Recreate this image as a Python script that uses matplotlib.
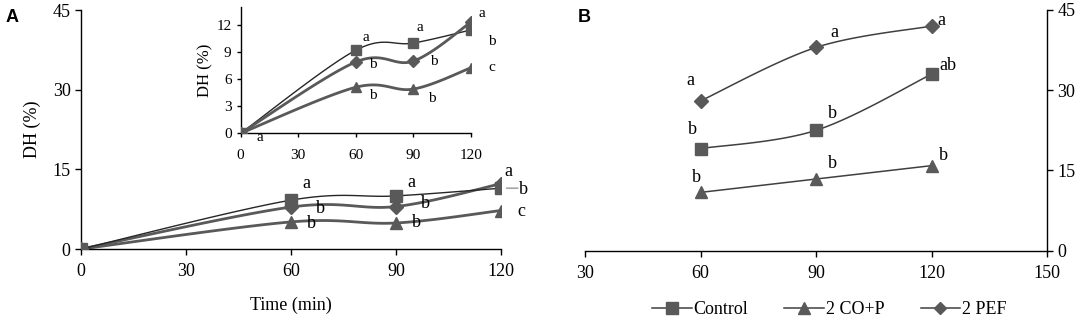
import numpy as np
import matplotlib
matplotlib.use("Agg")
import matplotlib.pyplot as plt
from matplotlib.lines import Line2D

# Panel A: DH (%) over hydrolysis time
time_a = [0, 60, 90, 120]
control_a = [0, 9.2, 10.0, 11.45]
cop_a = [0, 5.1, 4.9, 7.25]
pef_a = [0, 7.9, 8.0, 12.3]

letters_control_a = ["", "a", "a", "b"]
letters_cop_a = ["", "b", "b", "c"]
letters_pef_a = ["", "b", "b", "a"]

# Panel B
time_b = [60, 90, 120]
control_b = [19.1, 22.5, 33.0]
cop_b = [10.9, 13.4, 15.9]
pef_b = [28.0, 38.0, 42.0]

letters_control_b = ["b", "b", "ab"]
letters_cop_b = ["b", "b", "b"]
letters_pef_b = ["a", "a", "a"]

SERIF = "Liberation Serif"
MK = "#595959"
plt.rcParams["font.family"] = SERIF


def smooth(xs, ys, n=40):
    """Excel-like smoothed line (Catmull-Rom as cubic Bezier)."""
    p = np.column_stack([xs, ys]).astype(float)
    pts = np.vstack([p[0], p, p[-1]])
    out = []
    for i in range(1, len(pts) - 2):
        p0, p1, p2, p3 = pts[i - 1], pts[i], pts[i + 1], pts[i + 2]
        c1 = p1 + (p2 - p0) / 6
        c2 = p2 - (p3 - p1) / 6
        t = np.linspace(0, 1, n)[:, None]
        seg = ((1 - t) ** 3) * p1 + 3 * ((1 - t) ** 2) * t * c1 + 3 * (1 - t) * t ** 2 * c2 + t ** 3 * p2
        out.append(seg)
    c = np.vstack(out)
    return c[:, 0], c[:, 1]


def draw_series(ax, xs, ys, marker, ms, lw, lcolor, z=3):
    sx, sy = smooth(xs, ys)
    ax.plot(sx, sy, color=lcolor, lw=lw, zorder=2)
    ax.plot(xs, ys, ls="none", marker=marker, ms=ms, color=MK, mec=MK, zorder=z)


def label_points(ax, xs, ys, letters, offsets, size):
    for x, y, t, off in zip(xs, ys, letters, offsets):
        if t:
            ax.annotate(t, (x, y), xytext=off, textcoords="offset points",
                        ha="center", va="center", fontsize=size, family=SERIF)


def style_axes(ax, side="left"):
    for s in ["top", "right", "left", "bottom"]:
        ax.spines[s].set_visible(False)
    ax.spines["bottom"].set_visible(True)
    ax.spines[side].set_visible(True)
    for s in ["bottom", side]:
        ax.spines[s].set_linewidth(1.0)
    ax.tick_params(direction="out", length=4, width=1.0)


fig = plt.figure(figsize=(10.84, 3.19), dpi=100)

# ---- Panel A main ----
ax = fig.add_axes([0.0747, 0.2194, 0.3875, 0.7492])
draw_series(ax, time_a, cop_a, "^", 9, 2.0, MK, 3)
draw_series(ax, time_a, pef_a, "D", 7, 2.0, MK, 4)
draw_series(ax, time_a, control_a, "s", 9, 1.0, "#262626", 5)
ax.set_xlim(0, 120)
ax.set_ylim(0, 45)
ax.set_xticks([0, 30, 60, 90, 120])
ax.set_yticks([0, 15, 30, 45])
style_axes(ax, "left")
ax.tick_params(labelsize=13)
ax.tick_params(axis="x", pad=6)
ax.set_xlabel("Time (min)", fontsize=13, labelpad=12)
ax.set_ylabel("DH (%)", fontsize=13, labelpad=8)
label_points(ax, time_a, control_a, letters_control_a,
             [(0, 0), (11, 12), (11, 9.5), (16, -1)], 13)
label_points(ax, time_a, pef_a, letters_pef_a,
             [(0, 0), (21, -1), (21, 2), (5, 8.5)], 13)
label_points(ax, time_a, cop_a, letters_cop_a,
             [(0, 0), (14.5, -1), (15, 0), (15, -1)], 13)
ax.annotate("", (time_a[-1], control_a[-1]), xytext=(12, 0), textcoords="offset points",
            arrowprops=dict(arrowstyle="-", color="#a6a6a6", lw=1.2, shrinkA=0, shrinkB=4))
fig.text(0.005, 0.93, "A", fontsize=13, fontweight="bold", family="Liberation Sans")

# ---- Panel A inset ----
ins = fig.add_axes([0.2220, 0.5821, 0.2122, 0.396])
draw_series(ins, time_a, cop_a, "^", 7.5, 2.0, MK, 3)
draw_series(ins, time_a, control_a, "s", 7.5, 1.0, "#262626", 4)
draw_series(ins, time_a, pef_a, "D", 6, 2.0, MK, 5)
ins.set_xlim(0, 120)
ins.set_ylim(0, 14)
ins.set_xticks([0, 30, 60, 90, 120])
ins.set_yticks([0, 3, 6, 9, 12])
ins.patch.set_alpha(0)
style_axes(ins, "left")
ins.tick_params(labelsize=11, length=3)
ins.tick_params(axis="x", pad=8)
ins.set_ylabel("DH (%)", fontsize=12, labelpad=2)
label_points(ins, time_a, control_a, ["a"] + letters_control_a[1:],
             [(14, -3), (7, 9), (4.5, 11), (15.5, -8)], 11)
label_points(ins, time_a, pef_a, letters_pef_a,
             [(0, 0), (12.5, -1.5), (15, 0), (8, 6)], 11)
label_points(ins, time_a, cop_a, letters_cop_a,
             [(0, 0), (12.5, -6), (13.5, -7), (15, 0)], 11)

# ---- Panel B ----
bx = fig.add_axes([0.5397, 0.2141, 0.4262, 0.7546])
draw_series(bx, time_b, pef_b, "D", 7, 1.1, "#404040")
draw_series(bx, time_b, control_b, "s", 9, 1.1, "#404040")
draw_series(bx, time_b, cop_b, "^", 9, 1.1, "#404040")
bx.set_xlim(30, 150)
bx.set_ylim(0, 45)
bx.set_xticks([30, 60, 90, 120, 150])
bx.set_yticks([0, 15, 30, 45])
bx.yaxis.tick_right()
style_axes(bx, "right")
bx.tick_params(labelsize=13)
bx.tick_params(axis="x", pad=6)
label_points(bx, time_b, pef_b, letters_pef_b, [(-7, 15), (13, 11), (7, 4)], 13)
label_points(bx, time_b, control_b, letters_control_b, [(-5.5, 13.5), (12, 12), (12, 6.5)], 13)
label_points(bx, time_b, cop_b, letters_cop_b, [(-3, 10.5), (12, 11), (8.5, 7)], 13)
fig.text(0.533, 0.93, "B", fontsize=13, fontweight="bold", family="Liberation Sans")

handles = [
    Line2D([], [], color="#404040", lw=1.1, marker="s", ms=8, mfc=MK, mec=MK),
    Line2D([], [], color="#404040", lw=1.1, marker="^", ms=8, mfc=MK, mec=MK),
    Line2D([], [], color="#404040", lw=1.1, marker="D", ms=6, mfc=MK, mec=MK),
]
fig.legend(handles, ["Control", "2 CO+P", "2 PEF"], loc="center", ncol=3,
           bbox_to_anchor=(0.765, 0.03), frameon=False, fontsize=13,
           handlelength=2.2, handletextpad=0.1, columnspacing=2.0)

fig.savefig("out.png", dpi=100)
